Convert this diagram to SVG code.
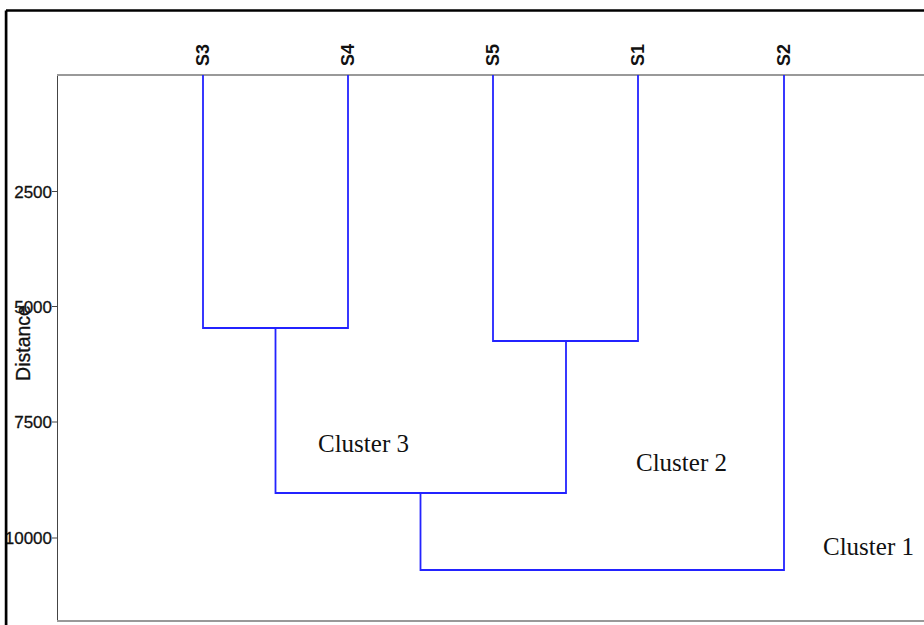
<svg xmlns="http://www.w3.org/2000/svg" width="924" height="625" viewBox="0 0 924 625">
<style>
.link{fill:none;stroke:#2323ff;stroke-width:1.8;stroke-linecap:square}
.leaf{font-family:"Liberation Sans",Arial,sans-serif;font-size:18px;font-weight:bold;fill:#111;text-anchor:middle}
.tick{font-family:"Liberation Sans",Arial,sans-serif;font-size:17px;fill:#111;stroke:#111;stroke-width:0.3;text-anchor:end}
.axis{font-family:"Liberation Sans",Arial,sans-serif;font-size:19.5px;fill:#111;stroke:#111;stroke-width:0.3;text-anchor:middle}
.clabel{font-family:"Liberation Serif","Times New Roman",serif;font-size:25px;fill:#111}
</style>
<rect width="924" height="625" fill="#fff"/>
<g id="frame">
<path d="M6,625 V10.5 H924" fill="none" stroke="#000" stroke-width="2.5"/>
</g>
<g id="plot-area">
<line x1="57.5" y1="75" x2="57.5" y2="621" stroke="#444" stroke-width="1"/>
<line x1="57" y1="75" x2="924" y2="75" stroke="#999" stroke-width="2"/>
<line x1="57" y1="621" x2="924" y2="621" stroke="#999" stroke-width="2"/>
</g>
<g id="y-axis">
<g stroke="#444" stroke-width="1">
<line x1="52" y1="191.5" x2="57" y2="191.5"/>
<line x1="52" y1="306.5" x2="57" y2="306.5"/>
<line x1="52" y1="422" x2="57" y2="422"/>
<line x1="52" y1="538" x2="57" y2="538"/>
</g>
<text class="tick" x="52" y="197.5">2500</text>
<text class="tick" x="52" y="312.5">5000</text>
<text class="tick" x="52" y="428">7500</text>
<text class="tick" x="52" y="544">10000</text>
<text class="axis" transform="translate(30,343) rotate(-90)">Distance</text>
</g>
<rect x="0" y="0" width="6" height="625" fill="#fff"/>
<path d="M6,625 V10.5" fill="none" stroke="#000" stroke-width="2.5"/>
<g id="leaves">
<g id="S3"><text class="leaf" transform="translate(209,55) rotate(-90)">S3</text></g>
<g id="S4"><text class="leaf" transform="translate(354,55) rotate(-90)">S4</text></g>
<g id="S5"><text class="leaf" transform="translate(499,55) rotate(-90)">S5</text></g>
<g id="S1"><text class="leaf" transform="translate(644,55) rotate(-90)">S1</text></g>
<g id="S2"><text class="leaf" transform="translate(790,55) rotate(-90)">S2</text></g>
</g>
<g id="connectors">
<path class="link" d="M203,76 V328 H348 V76"/>
<path class="link" d="M493,76 V341 H638 V76"/>
<path class="link" d="M275.5,328 V493 H566 V341"/>
<path class="link" d="M420.5,493 V570 H784 V76"/>
</g>
<g id="cluster-labels">
<g id="cluster3"><text class="clabel" x="318" y="452">Cluster 3</text></g>
<g id="cluster2"><text class="clabel" x="636" y="471">Cluster 2</text></g>
<g id="cluster1"><text class="clabel" x="823" y="555">Cluster 1</text></g>
</g>
</svg>
